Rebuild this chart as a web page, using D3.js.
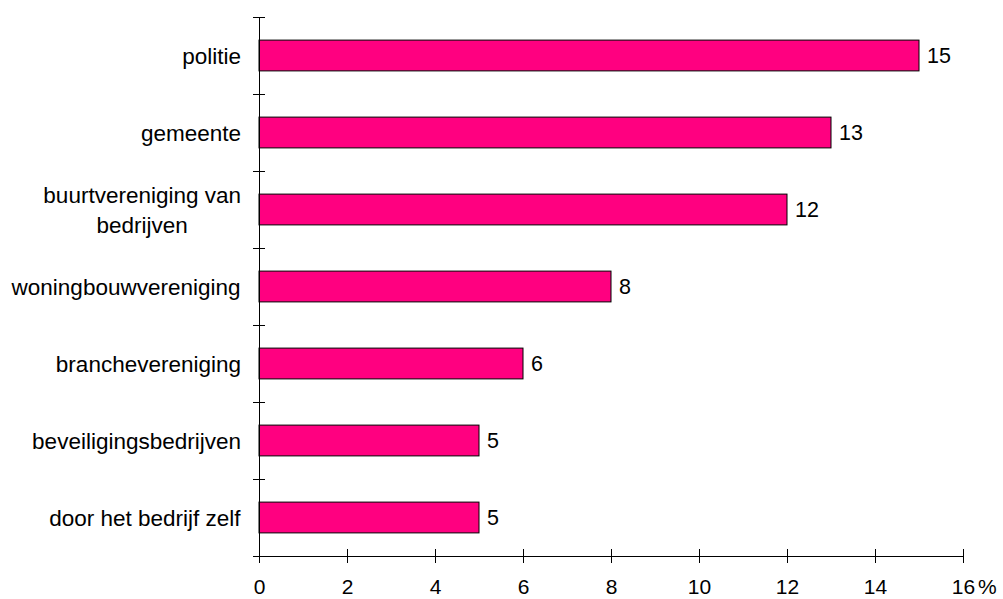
<!DOCTYPE html>
<html>
<head>
<meta charset="utf-8">
<script src="https://cdn.jsdelivr.net/npm/d3@7"></script>
<style>
  body { margin: 0; background: #fff; }
  svg text { font-family: "Liberation Sans", Arial, Helvetica, sans-serif; fill: #000; }
</style>
</head>
<body>
<div id="chart"></div>
<script>
// categories, top to bottom (multi-line labels as arrays)
var categories = [
    ["politie"],
    ["gemeente"],
    ["buurtvereniging van", "bedrijven"],
    ["woningbouwvereniging"],
    ["branchevereniging"],
    ["beveiligingsbedrijven"],
    ["door het bedrijf zelf"]
];
var values = [15, 13, 12, 8, 6, 5, 5];
var xTicks = [0, 2, 4, 6, 8, 10, 12, 14, 16];
var unitLabel = "%";

var width = 1003, height = 599;
var margin = { top: 17, right: 40, bottom: 43, left: 259 };

var svg = d3.select("#chart").append("svg")
    .attr("width", width)
    .attr("height", height);

var x = d3.scaleLinear()
    .domain([0, 16])
    .range([margin.left, 963]);

var y = d3.scaleBand()
    .domain(d3.range(categories.length))
    .range([margin.top, height - margin.bottom])
    .paddingInner(0.6)
    .paddingOuter(0.3);

// band boundaries for the y ticks
var yEdge = d3.scaleLinear()
    .domain([0, categories.length])
    .range([margin.top, height - margin.bottom]);

// bars
svg.append("g").selectAll("rect")
    .data(values)
    .enter().append("rect")
    .attr("x", x(0))
    .attr("y", function (d, i) { return y(i); })
    .attr("width", function (d) { return x(d) - x(0); })
    .attr("height", y.bandwidth())
    .attr("fill", "#ff0080")
    .attr("stroke", "#000")
    .attr("stroke-width", 1);

// value labels
svg.append("g").selectAll("text")
    .data(values)
    .enter().append("text")
    .attr("x", function (d) { return x(d) + 8; })
    .attr("y", function (d, i) { return y(i) + y.bandwidth() / 2; })
    .attr("dy", "0.36em")
    .style("font-size", "21.5px")
    .text(function (d) { return d; });

// x axis
var xAxis = svg.append("g")
    .attr("transform", "translate(0," + (height - margin.bottom) + ")")
    .call(d3.axisBottom(x).tickValues(xTicks).tickSize(7).tickPadding(16));
xAxis.select(".domain").attr("stroke", "#000");
xAxis.selectAll(".tick line").attr("y1", -7).attr("y2", 7).attr("stroke", "#000");
xAxis.selectAll(".tick text")
    .style("font-size", "21px")
    .attr("font-family", null);

svg.append("text")
    .attr("x", x(16) + 15)
    .attr("y", height - margin.bottom + 23)
    .attr("dy", "0.71em")
    .style("font-size", "21px")
    .text(unitLabel);

// y axis (ticks on band edges, no labels)
var yAxis = svg.append("g")
    .attr("transform", "translate(" + x(0) + ",0)")
    .call(d3.axisLeft(yEdge).ticks(categories.length).tickSize(6).tickFormat(""));
yAxis.select(".domain").attr("stroke", "#000");
yAxis.selectAll(".tick line").attr("x1", -6).attr("x2", 6).attr("stroke", "#000");

// category labels
var lineHeight = 30;
var labels = svg.append("g").selectAll("text")
    .data(categories)
    .enter().append("text")
    .attr("text-anchor", "middle")
    .style("font-size", "22.5px");

labels.each(function (lines, i) {
    var t = d3.select(this);
    var cy = y(i) + y.bandwidth() / 2;
    var y0 = cy - (lines.length - 1) * lineHeight / 2;
    lines.forEach(function (s, k) {
        t.append("tspan").attr("x", 0).attr("y", y0 + k * lineHeight).attr("dy", "0.36em").text(s);
    });
    // right-align the block against the axis
    var w = this.getBBox().width;
    t.selectAll("tspan").attr("x", 241 - w / 2);
});
</script>
</body>
</html>
